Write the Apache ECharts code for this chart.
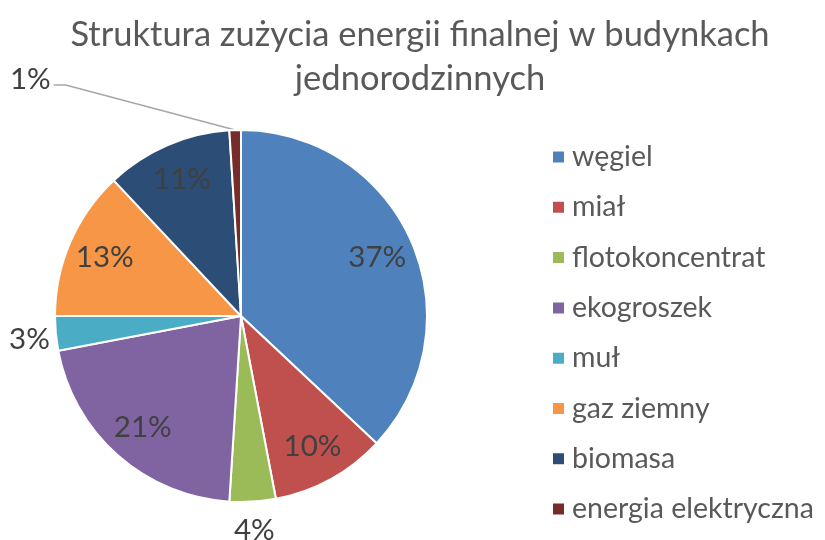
<!DOCTYPE html>
<html>
<head>
<meta charset="utf-8">
<script src="https://cdn.jsdelivr.net/npm/echarts@6/dist/echarts.min.js"></script>
<style>
  html, body { margin: 0; padding: 0; background: #fff; }
  #chart { width: 825px; height: 540px; }
</style>
</head>
<body>
<div id="chart"></div>
<script>
var dom = document.getElementById("chart");
var myChart = echarts.init(dom);

var names = ['węgiel', 'miał', 'flotokoncentrat', 'ekogroszek', 'muł', 'gaz ziemny', 'biomasa', 'energia elektryczna'];
var shares = [37, 10, 4, 21, 3, 13, 11, 1];
var colors = ['#4F81BD', '#C0504D', '#9BBB59', '#8064A2', '#4BACC6', '#F79646', '#2C4D75', '#772C2A'];
// which slices get their label outside the pie
var outside = [false, false, true, false, true, false, false, true];

var font = 'Lato';

var pieData = [], labelData = [];
for (var i = 0; i < names.length; i++) {
	pieData.push({ name: names[i], value: shares[i], itemStyle: { color: colors[i] } });
	var lbl = { name: names[i], value: shares[i] };
	if (outside[i]) {
		lbl.label = { position: 'outside' };
		if (i == 7) {
			lbl.labelLine = { show: true, length: 45, length2: 180 };
		} else if (i == 2) {
			lbl.labelLine = { show: false, length: 26, length2: 0 };
		} else {
			lbl.labelLine = { show: false, length: 8, length2: 0 };
		}
	}
	labelData.push(lbl);
}

option = {
	backgroundColor: '#fff',
	color: colors,
	title: {
		text: 'Struktura zużycia energii finalnej w budynkach\njednorodzinnych',
		left: 415,
		textAlign: 'center',
		top: 8,
		textStyle: {
			fontFamily: font,
			fontWeight: 'normal',
			fontSize: 34.5,
			lineHeight: 44,
			color: '#595959'
		}
	},
	legend: {
		orient: 'vertical',
		left: 546,
		top: 137,
		icon: 'rect',
		itemWidth: 13,
		itemHeight: 13,
		itemGap: 20.3,
		data: names,
		textStyle: {
			fontFamily: font,
			fontSize: 28.5,
			lineHeight: 30,
			color: '#595959',
			padding: [0, 0, 0, 2]
		}
	},
	series: [{
		type: 'pie',
		center: [241, 316],
		radius: [0, 186],
		startAngle: 90,
		clockwise: true,
		silent: true,
		itemStyle: { borderColor: '#fff', borderWidth: 2 },
		label: { show: false },
		labelLine: { show: false },
		data: pieData
	}, {
		// transparent ring used only to place the percentage labels
		type: 'pie',
		center: [241, 316],
		radius: [105, 186],
		startAngle: 90,
		clockwise: true,
		silent: true,
		itemStyle: { color: 'rgba(0,0,0,0)' },
		label: {
			show: true,
			position: 'inside',
			formatter: function (p) { return p.value + '%'; },
			fontFamily: font,
			fontSize: 29.5,
			color: '#404040',
			overflow: 'none',
			bleedMargin: 0,
			distanceToLabelLine: 6
		},
		labelLine: {
			lineStyle: { color: '#A6A6A6', width: 1.5 }
		},
		labelLayout: function (params) {
			if (params.dataIndex == 2) {
				return { align: 'center', dx: -6, dy: 3 };
			}
			if (params.dataIndex == 4) {
				return { dx: 8, dy: 5 };
			}
			if (params.dataIndex == 7 && params.labelLinePoints) {
				var pts = params.labelLinePoints;
				return {
					dx: 3,
					dy: -6,
					labelLinePoints: [pts[0], [pts[2][0] + 12, pts[2][1]], pts[2]]
				};
			}
			return {};
		},
		data: labelData
	}]
};
myChart.setOption(option);
</script>
</body>
</html>
